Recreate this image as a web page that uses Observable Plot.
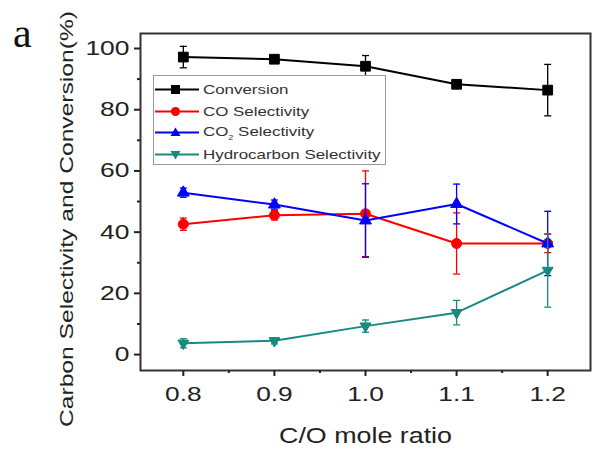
<!DOCTYPE html>
<html>
<head>
<meta charset="utf-8">
<script src="https://cdn.jsdelivr.net/npm/d3@7"></script>
<script src="https://cdn.jsdelivr.net/npm/@observablehq/plot@0.6"></script>
<style>
  body { margin: 0; background: white; }
  #wrap { position: relative; width: 592px; height: 449px; background: white; }
  #panel { position: absolute; left: 13px; top: 9px; font-family: "Liberation Serif", "Times New Roman", serif; font-size: 42px; color: #111; }
  #legend { position: absolute; left: 153px; top: 75px; width: 233px; height: 90px; border: 1px solid #999; background: white;
            font-family: "Liberation Sans", Arial, sans-serif; font-size: 13px; color: #333; box-sizing: border-box; padding-top: 3px; }
  .row { display: flex; align-items: center; height: 21.5px; white-space: nowrap; }
  .row svg { margin-left: 1px; margin-right: 4px; flex: none; }
  .row span { display: inline-block; transform: scaleX(1.3); transform-origin: left center; }
</style>
</head>
<body>
<div id="wrap">
  <div id="chart"></div>
  <div id="panel">a</div>
  <div id="legend"></div>
</div>
<script>
const ratios = [0.8, 0.9, 1.0, 1.1, 1.2];
const conversion = [97.2, 96.5, 94.2, 88.3, 86.4];
const conversionErr = [3.5, 0.8, 3.5, 1.0, 8.4];
const coSel = [42.6, 45.5, 46.0, 36.3, 36.3];
const coErr = [2.0, 1.5, 14.0, 10.0, 3.0];
const co2Sel = [52.9, 49.0, 43.8, 49.2, 36.3];
const co2Err = [1.5, 1.5, 12.0, 6.5, 10.5];
const hcSel = [3.7, 4.5, 9.3, 13.7, 27.5];
const hcErr = [1.5, 1.0, 2.0, 4.0, 12.0];
const xTicks = [0.8, 0.9, 1.0, 1.1, 1.2];
const xMinor = [0.85, 0.95, 1.05, 1.15];
const yTicks = [0, 20, 40, 60, 80, 100];
const yMinor = [10, 30, 50, 70, 90];

const seriesDefs = [
  {name: "Conversion", html: "Conversion", vals: conversion, err: conversionErr, color: "#000000", symbol: "square", r: 5.5},
  {name: "CO Selectivity", html: "CO Selectivity", vals: coSel, err: coErr, color: "#ff0000", symbol: "circle", r: 5},
  {name: "CO2 Selectivity", html: "CO<sub style='font-size:7px'>2</sub> Selectivity", vals: co2Sel, err: co2Err, color: "#0000ff", symbol: "triangle", r: 4.4},
  {name: "Hydrocarbon Selectivity", html: "Hydrocarbon Selectivity", vals: hcSel, err: hcErr, color: "#178a80", symbol: "triangle-down", r: 7}
];

const capSymbol = {
  draw(context, size) {
    const r = Math.sqrt(size / Math.PI);
    context.moveTo(-r, 0);
    context.lineTo(r, 0);
  }
};
const triDown = {
  draw(context, size) {
    const s = Math.sqrt(size / (Math.sqrt(3) * 0.75));
    const h = s * Math.sqrt(3) / 2;
    context.moveTo(-s / 2, -h / 3);
    context.lineTo(s / 2, -h / 3);
    context.lineTo(0, 2 * h / 3);
    context.closePath();
  }
};

const marks = [];
for (const s of seriesDefs) {
  const data = ratios.map((x, i) => ({x, y: s.vals[i], lo: s.vals[i] - s.err[i], hi: s.vals[i] + s.err[i]}));
  marks.push(Plot.line(data, {x: "x", y: "y", stroke: s.color, strokeWidth: 2}));
  marks.push(Plot.ruleX(data, {x: "x", y1: "lo", y2: "hi", stroke: s.color, strokeWidth: 1.3}));
  marks.push(Plot.dot(data, {x: "x", y: "lo", symbol: capSymbol, r: 3.5, stroke: s.color, strokeWidth: 1.3}));
  marks.push(Plot.dot(data, {x: "x", y: "hi", symbol: capSymbol, r: 3.5, stroke: s.color, strokeWidth: 1.3}));
  marks.push(Plot.dot(data, {x: "x", y: "y", symbol: s.symbol === "triangle-down" ? triDown : s.symbol, r: s.r, fill: s.color, stroke: s.color, strokeWidth: 1}));
}

const chart = Plot.plot({
  width: 592,
  height: 449,
  marginLeft: 140,
  marginRight: 2,
  marginTop: 33,
  marginBottom: 79,
  x: {domain: [0.753, 1.247]},
  y: {domain: [-5.2, 104.9]},
  style: {fontFamily: "'Liberation Sans', Arial, sans-serif", fontSize: "19px", color: "#222", background: "white"},
  marks: [
    Plot.frame({stroke: "#333", strokeWidth: 2}),
    Plot.axisX({ticks: xTicks, tickSize: 6, tickPadding: 10, tickFormat: d => d.toFixed(1), strokeWidth: 2, fontSize: 21, label: null}),
    Plot.axisX({ticks: [], label: "C/O mole ratio", labelAnchor: "center", labelArrow: "none", labelOffset: 72, fontSize: 22}),
    Plot.axisX({ticks: xMinor, tickSize: 3, tickFormat: () => "", label: null, strokeWidth: 2}),
    Plot.axisY({ticks: yTicks, tickSize: 6, tickPadding: 5, strokeWidth: 2, fontSize: 20, label: null}),
    Plot.axisY({ticks: [], label: "Carbon Selectivity and Conversion(%)", labelAnchor: "center", labelArrow: "none", labelOffset: 81, fontSize: 19}),
    Plot.axisY({ticks: yMinor, tickSize: 3, tickFormat: () => "", label: null, strokeWidth: 2}),
    ...marks
  ]
});
document.getElementById("chart").appendChild(chart);

// Emulate the horizontally stretched lettering of the original figure
chart.querySelectorAll("text").forEach(t => {
  const txt = t.textContent;
  if (!txt) return;
  const len = t.getComputedTextLength();
  if (!len) return;
  const isYTitle = txt.startsWith("Carbon");
  const k = txt.startsWith("C/O") ? 1.22 : /^\d\.\d$/.test(txt) ? 1.25 : 1.32;
  t.setAttribute("textLength", isYTitle ? "416" : (len * k).toFixed(1));
  t.setAttribute("lengthAdjust", "spacingAndGlyphs");
  if (isYTitle) {
    const g = document.createElementNS("http://www.w3.org/2000/svg", "g");
    g.setAttribute("transform", "translate(0,17)");
    t.parentNode.insertBefore(g, t);
    g.appendChild(t);
  }
});

// Legend
const legend = document.getElementById("legend");
for (const s of seriesDefs) {
  const row = document.createElement("div");
  row.className = "row";
  const sym = s.symbol === "square" ? `<rect x="16" y="4" width="9" height="9" fill="${s.color}"/>`
    : s.symbol === "circle" ? `<circle cx="20.5" cy="8.5" r="4.5" fill="${s.color}"/>`
    : s.symbol === "triangle" ? `<polygon points="20.5,3.5 25.5,12 15.5,12" fill="${s.color}"/>`
    : `<polygon points="15.5,5 25.5,5 20.5,13.5" fill="${s.color}"/>`;
  row.innerHTML = `<svg width="44" height="17"><line x1="0" x2="44" y1="8.5" y2="8.5" stroke="${s.color}" stroke-width="2"/>${sym}</svg><span>${s.html}</span>`;
  legend.appendChild(row);
}
</script>
</body>
</html>
